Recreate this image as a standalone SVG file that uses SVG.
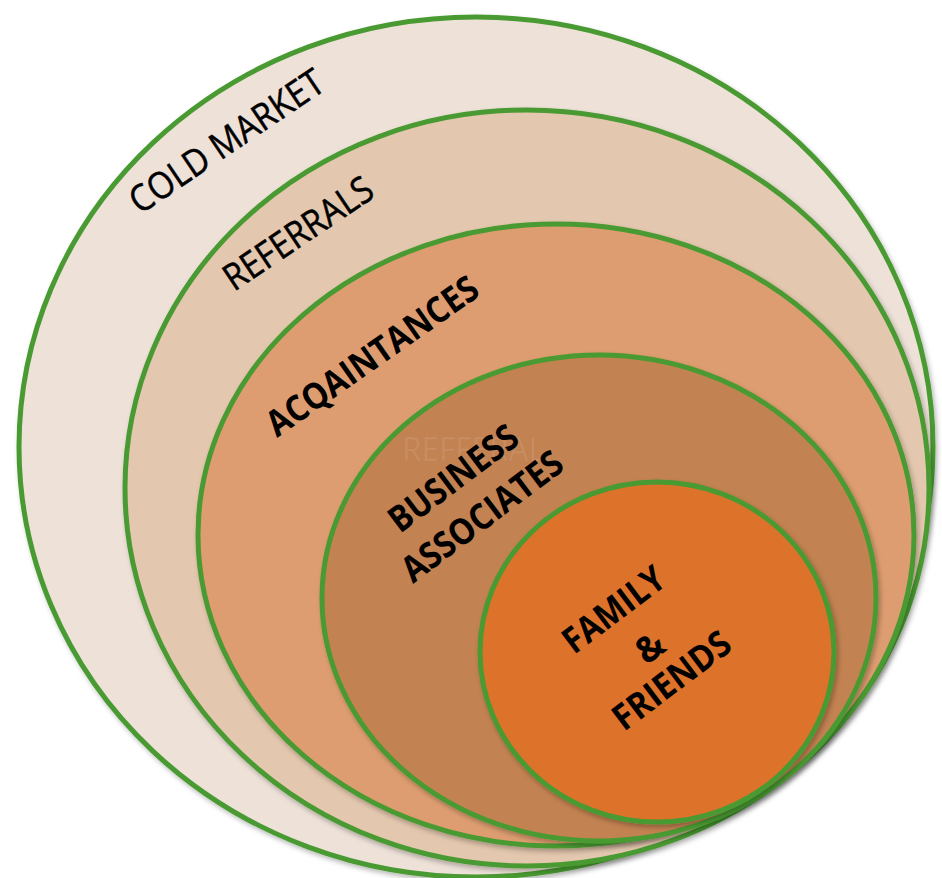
<svg xmlns="http://www.w3.org/2000/svg" width="942" height="878" viewBox="0 0 942 878">
  <defs>
    <filter id="shadow" x="-10%" y="-10%" width="120%" height="120%">
      <feDropShadow dx="2" dy="3" stdDeviation="2.5" flood-color="#000000" flood-opacity="0.28"/>
    </filter>
  </defs>
  <style>
    .ring { stroke: #4A9A30; stroke-width: 5; filter: url(#shadow); }
    .lbl { font-family: "Open Sans", "Liberation Sans", sans-serif; fill: #000000; }
    .reg { font-weight: 400; font-size: 37px; stroke: #000000; stroke-width: 0.5; }
    .bold { font-weight: 700; font-size: 36px; }
    .ghost { font-family: "Open Sans", "Liberation Sans", sans-serif; font-size: 32px; fill: #C88D61; stroke: #B97A4C; stroke-width: 0.5; stroke-opacity: 0.3; }
  </style>
  <rect width="942" height="878" fill="#FFFFFF"/>

  <g id="cold-market">
    <ellipse class="ring" cx="476" cy="447" rx="457" ry="430" fill="#EDE1D8"/>
    <text class="lbl reg" transform="translate(140,215) rotate(-34)" textLength="226" lengthAdjust="spacingAndGlyphs">COLD MARKET</text>
  </g>

  <g id="referrals">
    <ellipse class="ring" cx="527" cy="488" rx="402" ry="378" fill="#E3C7AE"/>
    <text class="lbl reg" transform="translate(234,292) rotate(-34)" textLength="172" lengthAdjust="spacingAndGlyphs">REFERRALS</text>
  </g>

  <g id="acquaintances">
    <ellipse class="ring" cx="556" cy="535" rx="358" ry="311" fill="#DD9D70"/>
    <text class="lbl bold" transform="translate(277,438) rotate(-35)" textLength="250" lengthAdjust="spacingAndGlyphs">ACQAINTANCES</text>
  </g>

  <g id="business-associates">
    <ellipse class="ring" cx="599" cy="598" rx="277" ry="243" fill="#C38251"/>
    <text class="ghost" x="402" y="461" textLength="143" lengthAdjust="spacingAndGlyphs">REFFERAL</text>
    <text class="lbl bold" transform="translate(400,534) rotate(-37)" textLength="152" lengthAdjust="spacingAndGlyphs">BUSINESS</text>
    <text class="lbl bold" transform="translate(413,584) rotate(-37)" textLength="192" lengthAdjust="spacingAndGlyphs">ASSOCIATES</text>
  </g>

  <g id="family-friends">
    <ellipse class="ring" cx="657" cy="652" rx="177" ry="170" fill="#DD722A"/>
    <text class="lbl bold" transform="translate(574,655) rotate(-37)" textLength="118" lengthAdjust="spacingAndGlyphs">FAMILY</text>
    <text class="lbl bold" transform="translate(650,648) rotate(-37)" y="12" text-anchor="middle">&amp;</text>
    <text class="lbl bold" transform="translate(624,732) rotate(-37)" textLength="138" lengthAdjust="spacingAndGlyphs">FRIENDS</text>
  </g>

  <g id="connectors"/>
</svg>
